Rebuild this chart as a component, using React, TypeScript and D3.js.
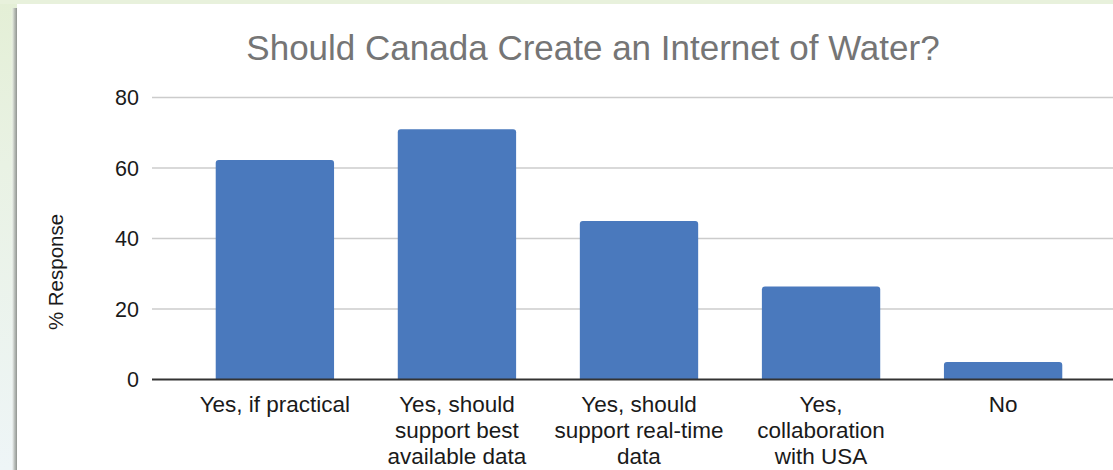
import React from "react";
import * as d3 from "d3";

const categories: string[][] = [
  ["Yes, if practical"],
  ["Yes, should", "support best", "available data"],
  ["Yes, should", "support real-time", "data"],
  ["Yes,", "collaboration", "with USA"],
  ["No"],
];
const values: number[] = [62.3, 71.0, 45.0, 26.4, 5.0];
const yTicks: number[] = [0, 20, 40, 60, 80];
const title = "Should Canada Create an Internet of Water?";
const yTitle = "% Response";

const W = 1113;
const H = 470;
const FONT = "'Liberation Sans', Arial, Helvetica, sans-serif";

export default function App() {
  const keys = categories.map((c) => c.join(" "));
  const x = d3.scaleBand<string>().domain(keys).range([152, 1126]).padding(0.35);
  const y = d3.scaleLinear().domain([0, 80]).range([379.5, 97.5]);

  const barPath = (x0: number, w: number, top: number, bottom: number, r: number) => {
    const rr = Math.min(r, (bottom - top) / 2, w / 2);
    return `M${x0},${bottom}V${top + rr}Q${x0},${top} ${x0 + rr},${top}H${x0 + w - rr}Q${x0 + w},${top} ${x0 + w},${top + rr}V${bottom}Z`;
  };

  return (
    <svg
      width={W}
      height={H}
      style={{ position: "absolute", left: 0, top: 0, display: "block" }}
      fontFamily={FONT}
    >
      <defs>
        <linearGradient id="bgGrad" x1="0" y1="0" x2="0" y2="1">
          <stop offset="0" stopColor="#e4efd6" />
          <stop offset="0.35" stopColor="#e9f2e4" />
          <stop offset="1" stopColor="#eef5f7" />
        </linearGradient>
        <linearGradient id="shadowGrad" x1="0" y1="0" x2="1" y2="0">
          <stop offset="0" stopColor="#ffffff" stopOpacity="0" />
          <stop offset="0.5" stopColor="#b8bcb8" stopOpacity="0.8" />
          <stop offset="1" stopColor="#8e928e" stopOpacity="1" />
        </linearGradient>
      </defs>
      <rect x={0} y={0} width={W} height={H} fill="url(#bgGrad)" />
      <rect x={0} y={0} width={W} height={4} fill="#e8f1dc" />
      <rect x={11} y={8} width={6} height={H - 8} fill="url(#shadowGrad)" />
      <rect x={17} y={4} width={W - 17} height={H - 4} fill="#ffffff" />

      <text
        x={593}
        y={60}
        textAnchor="middle"
        fontSize={35}
        fill="#757575"
      >
        {title}
      </text>

      {yTicks.map((t) => (
        <g key={t}>
          {t !== 0 && (
            <line x1={152} x2={W} y1={y(t)} y2={y(t)} stroke="#cccccc" strokeWidth={1.5} />
          )}
          <text x={139} y={y(t)} dy="0.36em" textAnchor="end" fontSize={21.5} fill="#1a1a1a">
            {t}
          </text>
        </g>
      ))}

      {values.map((v, i) => {
        const k = keys[i];
        return (
          <path
            key={k}
            d={barPath(x(k)!, x.bandwidth(), y(v), y(0), 3)}
            fill="#4a79bd"
          />
        );
      })}

      <line x1={152} x2={W} y1={y(0)} y2={y(0)} stroke="#333333" strokeWidth={2} />

      {categories.map((lines, i) => {
        const k = keys[i];
        const cx = x(k)! + x.bandwidth() / 2;
        return (
          <text key={k} x={cx} y={412} textAnchor="middle" fontSize={22.5} fill="#1a1a1a">
            {lines.map((l, j) => (
              <tspan key={j} x={cx} dy={j === 0 ? 0 : 25.8}>
                {l}
              </tspan>
            ))}
          </text>
        );
      })}

      <text
        transform={`translate(63,272) rotate(-90)`}
        textAnchor="middle"
        fontSize={20.5}
        fill="#1a1a1a"
      >
        {yTitle}
      </text>
    </svg>
  );
}
